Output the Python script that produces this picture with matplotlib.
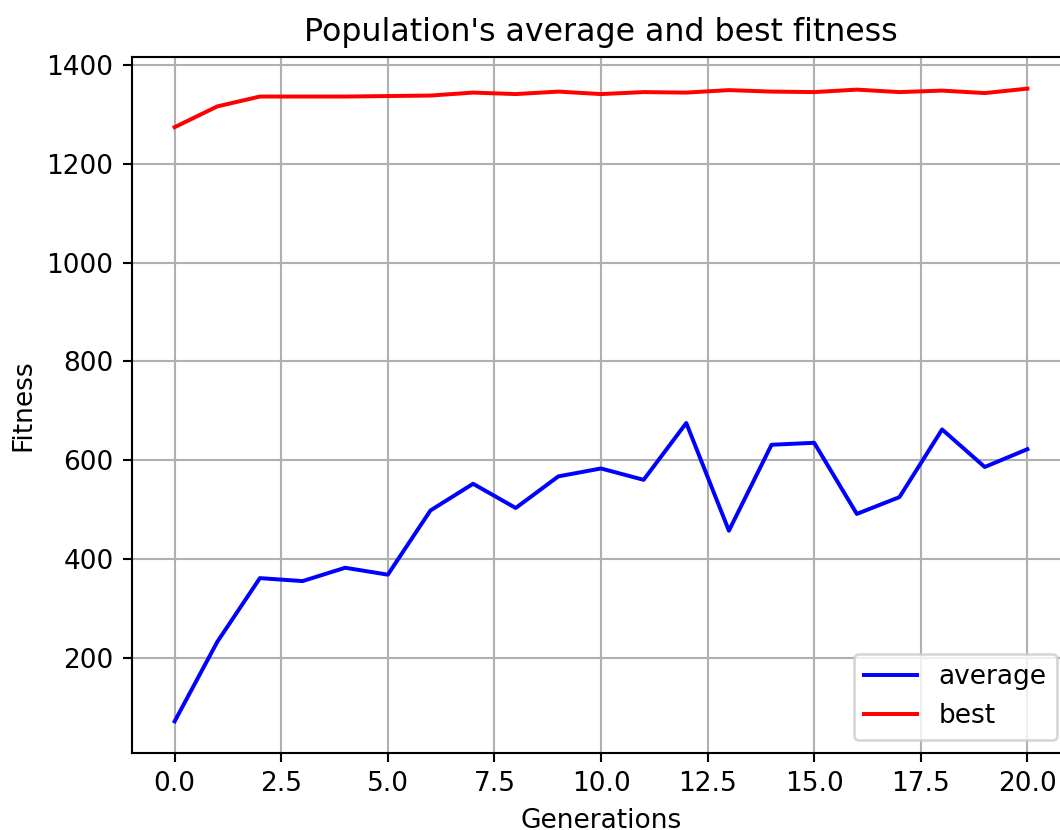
import matplotlib.pyplot as plt

# Fitness per generation
generations = list(range(21))
average = [71, 232, 361, 355, 382, 368, 498, 552, 503, 567, 583,
           560, 675, 457, 631, 635, 491, 525, 662, 586, 622]
best = [1274, 1316, 1336, 1336, 1336, 1337, 1338, 1344, 1341, 1346, 1341,
        1345, 1344, 1349, 1346, 1345, 1350, 1345, 1348, 1343, 1352]

dpi = 190
fig = plt.figure(figsize=(1060 / dpi, 830 / dpi), dpi=dpi)
# axes run past the right edge, as in the cropped reference
ax = fig.add_axes([132 / 1060, 77 / 830, (1070 - 132) / 1060, (753 - 57) / 830])

ax.plot(generations, average, color='blue', label='average')
ax.plot(generations, best, color='red', label='best')

ax.set_title("Population's average and best fitness")
ax.set_xlabel('Generations')
ax.set_ylabel('Fitness')
ax.grid(True)
ax.legend(loc='lower right')

fig.savefig('out.png', dpi=dpi)
